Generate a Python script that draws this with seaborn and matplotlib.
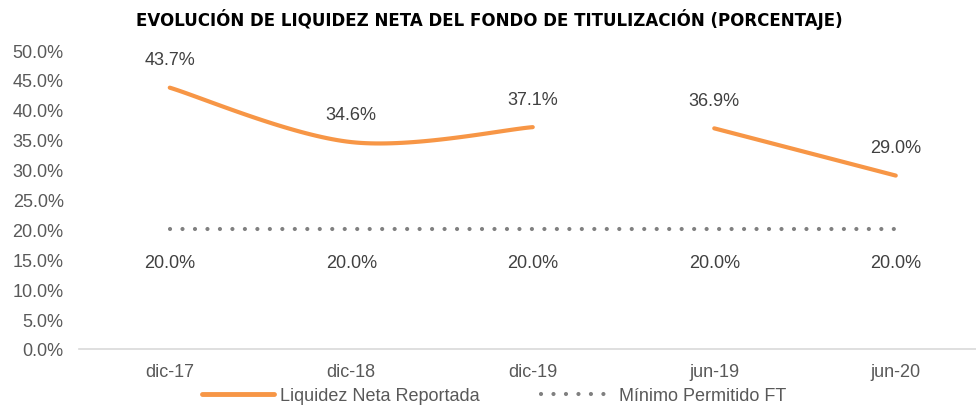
import numpy as np
import pandas as pd
import matplotlib
matplotlib.use("Agg")
import matplotlib.pyplot as plt
import seaborn as sns
from matplotlib.lines import Line2D

categories = ["dic-17", "dic-18", "dic-19", "jun-19", "jun-20"]
liquidez = [43.7, 34.6, 37.1, 36.9, 29.0]
minimo = [20.0, 20.0, 20.0, 20.0, 20.0]
segments = [[0, 1, 2], [3, 4]]  # line is broken between dic-19 and jun-19
yticks = [0, 5, 10, 15, 20, 25, 30, 35, 40, 45, 50]

ORANGE = "#F79646"
GREY_DOT = "#808080"
TXT = "#404040"
TICK = "#595959"
DOTS = (0, (0.01, 2.985))

sns.set_theme(style="white")
plt.rcParams['font.family'] = ['Liberation Sans', 'DejaVu Sans']


def smooth(xs, ys, n=40):
    xs = np.asarray(xs, float); ys = np.asarray(ys, float)
    if len(xs) < 3:
        return xs, ys
    px = np.concatenate([[xs[0]], xs, [xs[-1]]])
    py = np.concatenate([[ys[0]], ys, [ys[-1]]])
    ox, oy = [], []
    for i in range(1, len(px) - 2):
        t = np.linspace(0, 1, n)
        p0x, p1x, p2x, p3x = px[i-1:i+3]
        p0y, p1y, p2y, p3y = py[i-1:i+3]
        c1x = p1x + (p2x - p0x) / 6; c1y = p1y + (p2y - p0y) / 6
        c2x = p2x - (p3x - p1x) / 6; c2y = p2y - (p3y - p1y) / 6
        bx = (1-t)**3*p1x + 3*(1-t)**2*t*c1x + 3*(1-t)*t**2*c2x + t**3*p2x
        by = (1-t)**3*p1y + 3*(1-t)**2*t*c1y + 3*(1-t)*t**2*c2y + t**3*p2y
        ox.extend(bx); oy.extend(by)
    return np.array(ox), np.array(oy)


fig = plt.figure(figsize=(9.76, 4.06), dpi=100)
ax = fig.add_axes([79 / 976, 56 / 406, 907.5 / 976, 299 / 406])

for seg in segments:
    sx, sy = smooth(seg, [liquidez[i] for i in seg])
    df = pd.DataFrame({"x": sx, "y": sy})
    sns.lineplot(data=df, x="x", y="y", ax=ax, color=ORANGE, linewidth=3.0,
                 sort=False, estimator=None, solid_capstyle="round")

dfm = pd.DataFrame({"x": np.arange(len(categories)), "y": minimo})
sns.lineplot(data=dfm, x="x", y="y", ax=ax, color=GREY_DOT, linewidth=3.0,
             linestyle=DOTS, dash_capstyle="round", estimator=None)

for i, v in enumerate(liquidez):
    ax.annotate(f"{v:.1f}%", (i, v), xytext=(0, 20), textcoords="offset points",
                ha="center", va="center", fontsize=13, color=TXT)
for i, v in enumerate(minimo):
    ax.annotate(f"{v:.1f}%", (i, v), xytext=(0, -24), textcoords="offset points",
                ha="center", va="center", fontsize=13, color=TXT)

ax.set_xlim(-0.5, len(categories) - 0.5)
ax.set_ylim(0, 50)
ax.set_yticks(yticks)
ax.set_yticklabels([f"{t:.1f}%" for t in yticks], fontsize=13, color=TICK)
ax.set_xticks(range(len(categories)))
ax.set_xticklabels(categories, fontsize=13, color=TICK)
ax.set_xticks(np.arange(-0.5, len(categories), 1.0), minor=True)
ax.tick_params(axis="x", which="major", length=0, pad=10)
ax.tick_params(axis="x", which="minor", length=5, color="#D9D9D9", width=1, direction="out")
ax.tick_params(axis="y", length=0, pad=11)
ax.set_xlabel(""); ax.set_ylabel("")
for s in ["top", "right", "left"]:
    ax.spines[s].set_visible(False)
ax.spines["bottom"].set_color("#D9D9D9")
ax.spines["bottom"].set_linewidth(1.2)

fig.text(489 / 976, 1 - 20 / 406, "EVOLUCIÓN DE LIQUIDEZ NETA DEL FONDO DE TITULIZACIÓN (PORCENTAJE)",
         ha="center", va="center", fontsize=12, fontweight="bold", color="#000000",
         family=["DejaVu Sans"])

handles = [Line2D([], [], color=ORANGE, linewidth=3.5, solid_capstyle="round"),
           Line2D([], [], color=GREY_DOT, linewidth=3.0, linestyle=DOTS,
                  dash_capstyle="round")]
fig.legend(handles, ["Liquidez Neta Reportada", "Mínimo Permitido FT"],
           loc="center", bbox_to_anchor=(494 / 976, 1 - 397 / 406), ncol=2, frameon=False,
           fontsize=13, labelcolor=TICK, handlelength=4.0, columnspacing=3.4,
           handletextpad=0.3, borderpad=0)

fig.savefig("out.png", dpi=100)
